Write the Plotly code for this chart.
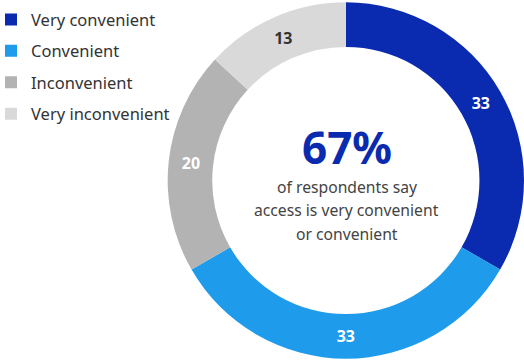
import plotly.graph_objects as go

categories = ["Very convenient", "Convenient", "Inconvenient", "Very inconvenient"]
shares = [33, 33, 20, 13]
slice_colors = ["#0A2BAF", "#1E9BEB", "#B3B3B3", "#D9D9D9"]
label_colors = ["#FFFFFF", "#FFFFFF", "#FFFFFF", "#333333"]

headline = "67%"
caption_lines = ["of respondents say", "access is very convenient", "or convenient"]

FONT = "Noto Sans"
CENTER_X = 0.662

fig = go.Figure()

fig.add_trace(
    go.Pie(
        labels=categories,
        values=shares,
        hole=0.75,
        sort=False,
        direction="clockwise",
        rotation=0,
        marker=dict(colors=slice_colors, line=dict(width=0)),
        texttemplate="<b>%{value}</b>",
        textposition="inside",
        insidetextorientation="horizontal",
        textfont=dict(family=FONT, size=16, color=label_colors),
        domain=dict(x=[0.32, 1.0], y=[0.0, 1.0]),
        showlegend=False,
        hoverinfo="label+value",
    )
)

# Legend entries: one square swatch per category
for name, color in zip(categories, slice_colors):
    fig.add_trace(
        go.Scatter(
            x=[None], y=[None], mode="markers", name=name,
            legendgroup=name,
            marker=dict(symbol="square", size=15, color=color),
            hoverinfo="skip",
        )
    )

fig.add_annotation(
    x=CENTER_X, y=0.592, xref="paper", yref="paper",
    text=f"<b>{headline}</b>", showarrow=False,
    font=dict(family=FONT, size=44, color="#0A2BAF"),
    xanchor="center", yanchor="middle",
)
for i, line in enumerate(caption_lines):
    fig.add_annotation(
        x=CENTER_X, y=0.483 - i * 0.0655, xref="paper", yref="paper",
        text=line, showarrow=False,
        font=dict(family=FONT, size=15.7, color="#444444"),
        xanchor="center", yanchor="middle",
    )

fig.update_layout(
    width=524, height=361,
    margin=dict(l=0, r=0, t=0, b=0, autoexpand=False),
    paper_bgcolor="white", plot_bgcolor="white",
    xaxis=dict(visible=False), yaxis=dict(visible=False),
    legend=dict(
        x=0.0, y=0.994, xanchor="left", yanchor="top",
        font=dict(family=FONT, size=16.5, color="#333333"),
        itemclick=False, itemdoubleclick=False,
        itemsizing="constant",
        indentation=-9,
        tracegroupgap=7,
        bgcolor="rgba(0,0,0,0)",
    ),
)

fig.write_html("out.html")
